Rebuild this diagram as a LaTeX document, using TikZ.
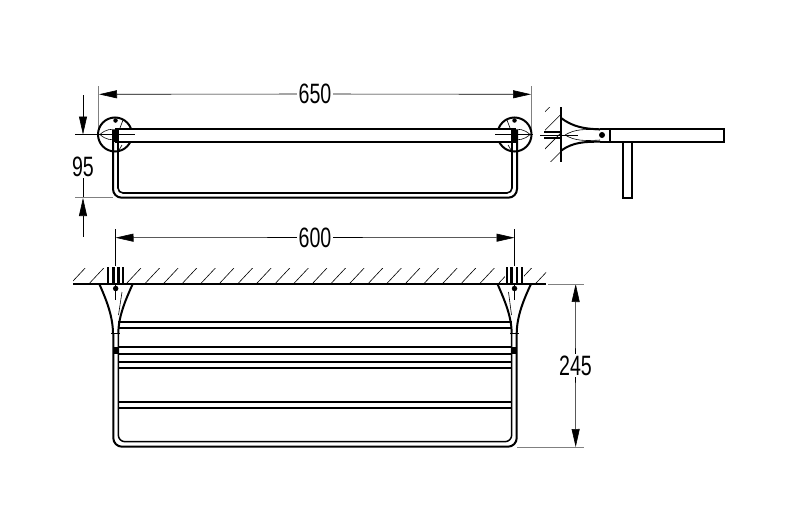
\documentclass[tikz,border=0pt]{standalone}
\usepackage{fontspec}
\newfontfamily\dimfont[FakeStretch=0.7]{Liberation Sans}
\usetikzlibrary{arrows.meta}

\begin{document}
\begin{tikzpicture}
	[x=1pt,y=-1pt,line cap=butt,
	%Styles
	outline/.style={line width=2pt},
	fine line/.style={line width=0.6pt},
	extension/.style={line width=1pt,draw=extcolor},
	dimension/.style={line width=0.6pt,{Triangle[length=18pt,width=8pt]}-},
	dimtext/.style={inner sep=1.5pt,font=\dimfont\fontsize{28}{28}\selectfont},
	hatch/.style={line width=0.6pt},
	dot/.style={circle,inner sep=0pt,minimum size=#1,fill=black}
	]
	
	%Colors
	\colorlet{extcolor}{black!50}
	
	\useasboundingbox (0,0) rectangle (800,527);
	
	%Dimension anchors
	\coordinate (a650l) at (99,94.3);
	\coordinate (a650r) at (531,94.3);
	\coordinate (a600l) at (115.5,237.7);
	\coordinate (a600r) at (514.5,237.7);
	\coordinate (a95t) at (83,134.5);
	\coordinate (a95tend) at (83,95);
	\coordinate (a95b) at (83,198);
	\coordinate (a95bend) at (83,237);
	\coordinate (a245t) at (575.7,284);
	\coordinate (a245b) at (575.7,447);
	
	\node[dimtext] (t650) at (315,94) {650};
	\node[dimtext] (t600) at (315,237.5) {600};
	\node[dimtext] (t95) at (83,166.5) {95};
	\node[dimtext] (t245) at (575.5,365.5) {245};
	
	\draw[dimension] (a650l) -- (t650);
	\draw[dimension] (a650r) -- (t650);
	\draw[dimension] (a600l) -- (t600);
	\draw[dimension] (a600r) -- (t600);
	\draw[dimension] (a95t) -- (a95tend);
	\draw[dimension] (a95b) -- (a95bend);
	\draw[fine line] (t95) -- (a95b);
	\draw[dimension] (a245t) -- (t245);
	\draw[dimension] (a245b) -- (t245);
	
	%Extension lines
	\draw[extension] (98.5,86) -- (98.5,135);
	\draw[extension] (531,86) -- (531,135);
	\draw[extension] (75,197.7) -- (113,197.7);
	\draw[extension] (548,284) -- (584,284);
	\draw[extension] (517,447) -- (584,447);
	\draw[fine line] (115.5,229) -- (115.5,300);
	\draw[fine line] (514.5,229) -- (514.5,300);
	
	%Front view: rosettes
	\draw[outline] (115,134.5) circle (17);
	\draw[outline] (514.5,134.5) circle (17);
	\draw[fill=white,draw=none] (115,129.3) rectangle (516,141.7);
	\draw[fine line] (75,134.5) -- (135,134.5);
	\draw[fine line] (495,134.5) -- (533,134.5);
	\node[dot=4.5pt] (dotfl) at (115.5,120.5) {};
	\node[dot=4.5pt] (dotfr) at (514.5,120.5) {};
	\draw[fine line] (100,134.5) .. controls (106,129) and (111,129) .. (116,129.5);
	\draw[fine line] (100,134.5) .. controls (106,140) and (111,140) .. (116,139.5);
	\draw[fine line] (530,134.5) .. controls (524,129) and (519,129) .. (514,129.5);
	\draw[fine line] (530,134.5) .. controls (524,140) and (519,140) .. (514,139.5);
	\draw[fine line] (123,120) -- (120,128) (119,150) -- (122,145);
	\draw[fine line] (507,120) -- (510,128) (511,150) -- (508,145);
	
	%Front view: bar and rail
	\draw[outline] (115,129.3) -- (516,129.3) (115,141.7) -- (516,141.7);
	\draw[outline] (113,130) -- (113,189) arc[start angle=180,end angle=90,radius=8.7] -- (508.3,197.7) arc[start angle=90,end angle=0,radius=8.7] -- (517,130);
	\draw[line width=1.6pt] (118,130) -- (118,188) arc[start angle=180,end angle=90,radius=5] -- (507,193) arc[start angle=90,end angle=0,radius=5] -- (512,130);
	\fill (113,130) rectangle (118,142);
	\fill (512,130) rectangle (517,142);
	
	%Side view
	\begin{scope}
		\clip (545,107) rectangle (561,161);
		\foreach \k in {656.7,675.3,693.9,712.5}
			\draw[hatch] (\k-561,561) -- (561,\k-561);
	\end{scope}
	\draw[line width=1.5pt] (561,107.3) -- (561,161.7);
	\draw[outline] (544,131.7) -- (561,131.7) (544,138.3) -- (561,138.3);
	\draw[fine line] (540,135) -- (578,135);
	\draw[outline] (561,118) .. controls (573,127) and (585,129) .. (600,129.3);
	\draw[outline] (561,150.7) .. controls (573,142) and (585,141.7) .. (600,141.7);
	\draw[fine line] (565,135) .. controls (575,129) and (585,129) .. (600,130);
	\draw[fine line] (565,135) .. controls (575,141) and (585,141) .. (600,140);
	\node[dot=6pt] (dots) at (602,135) {};
	\draw[outline] (600,129.3) -- (724,129.3) -- (724,141.7) -- (600,141.7);
	\draw[outline] (610,129.3) -- (610,141.7);
	\draw[outline] (623.3,141.7) -- (623.3,198.3) -- (631.7,198.3) -- (631.7,141.7);
	
	%Wall
	\begin{scope}
		\clip (73,268) rectangle (546,284);
		\foreach \i in {0,...,25}
			\draw[hatch] (70.2+18.6*\i,284) -- (85.2+18.6*\i,268);
	\end{scope}
	\fill[white] (106,266) rectangle (125,283);
	\fill[white] (505,266) rectangle (524,283);
	\draw[line width=1.5pt] (73,284) -- (546,284);
	\draw[outline] (108.3,267.3) -- (108.3,284) (123.3,267.3) -- (123.3,284);
	\draw[line width=2.6pt] (113.3,267.3) -- (113.3,284) (118.3,267.3) -- (118.3,284);
	\draw[outline] (507,267.3) -- (507,284) (522,267.3) -- (522,284);
	\draw[line width=2.6pt] (511.7,267.3) -- (511.7,284) (517,267.3) -- (517,284);
	
	%Plan view: brackets
	\draw[outline] (99.3,284) .. controls (106,299) and (113,316) .. (113,334);
	\draw[outline] (132.7,284) .. controls (126,299) and (118.3,316) .. (118.3,334);
	\draw[outline] (497.5,284) .. controls (504,299) and (511.7,316) .. (511.7,334);
	\draw[outline] (531,284) .. controls (524,299) and (516.7,316) .. (516.7,334);
	\node[dot=5.5pt] (dotpl) at (115.7,288.5) {};
	\node[dot=5.5pt] (dotpr) at (514.5,288.5) {};
	\draw[fine line] (122,292) -- (118.5,315) (508.5,292) -- (511.5,315);
	\draw[line width=1pt] (111,333) -- (120,333) (510,333) -- (519,333);
	
	%Plan view: shelf
	\draw[outline] (113.3,334) -- (113.3,438) arc[start angle=180,end angle=90,radius=8.7] -- (508,446.7) arc[start angle=90,end angle=0,radius=8.7] -- (516.7,334);
	\draw[line width=1.5pt] (118.3,334) -- (118.3,435) arc[start angle=180,end angle=90,radius=6.7] -- (505,441.7) arc[start angle=90,end angle=0,radius=6.7] -- (511.7,334);
	\foreach \y in {321.7,328.3,346.5,354.3,361.7,368.3,401.7,408.3}
		\draw[outline] (118,\y) -- (512,\y);
	\fill (113,346.5) rectangle (118.5,354.3);
	\fill (511.5,346.5) rectangle (517,354.3);
\end{tikzpicture}
\end{document}
